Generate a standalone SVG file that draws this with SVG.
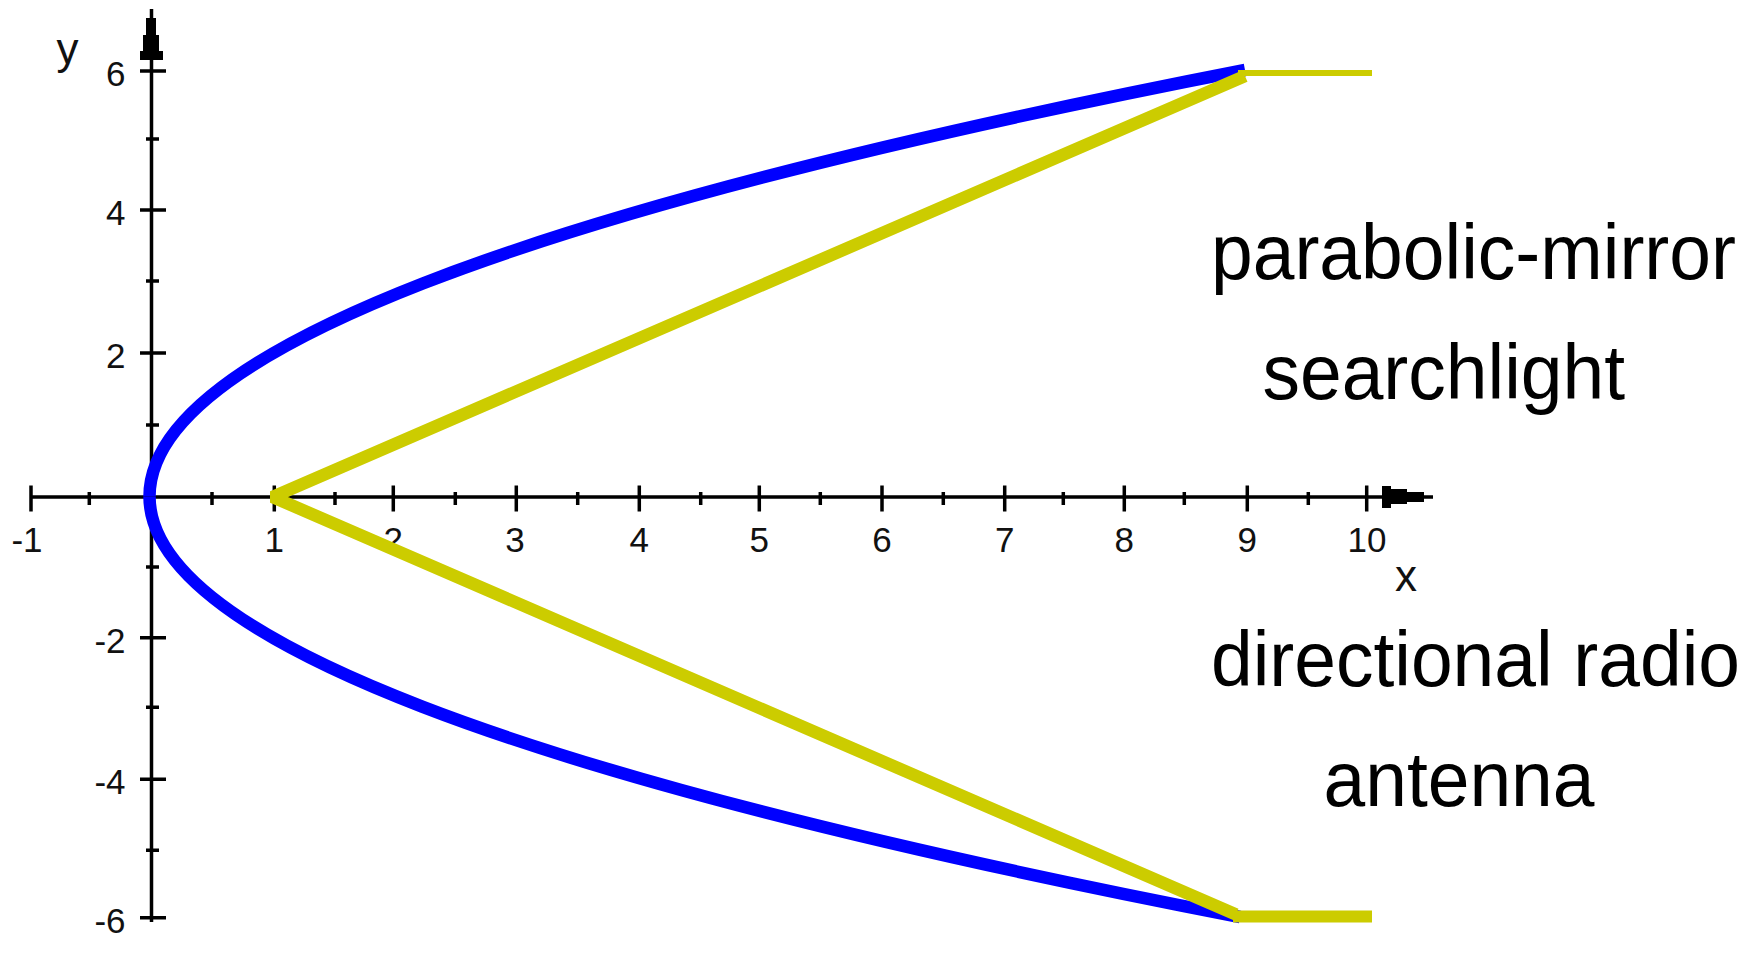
<svg xmlns="http://www.w3.org/2000/svg" width="1760" height="956" viewBox="0 0 1760 956">
<style>
.axis{stroke:#000;stroke-width:3.5;fill:none}
.tick{stroke:#000;stroke-width:3.5;fill:none}
.ah{fill:#000}
.num{font-family:"Liberation Sans",Arial,sans-serif;font-size:35px;fill:#111}
.axl{font-family:"Liberation Sans",Arial,sans-serif;font-size:44px;fill:#111;text-anchor:middle}
.lbl{font-family:"Liberation Sans",Arial,sans-serif;font-size:77px;fill:#000}
.para{stroke:#0000ff;stroke-width:12.5;fill:none}
.ray{stroke:#cccc00;fill:none;stroke-linejoin:bevel}
</style>
<rect width="1760" height="956" fill="#fff"/>
<g id="axes">
<path class="axis" d="M31 497H1433M151.5 9V922"/>
<polygon class="ah" points="1382,486 1391,486 1391,489 1407,489 1407,492 1424,492 1424,502 1407,502 1407,504 1391,504 1391,508 1382,508"/>
<polygon class="ah" points="146,18 156,18 156,35 159,35 159,51 163,51 163,60 140,60 140,51 143,51 143,35 146,35"/>
<path class="tick" d="M31 485.5V511.5M274.3 485.5V511.5M393.3 485.5V511.5M516.3 485.5V511.5M639.3 485.5V511.5M759.3 485.5V511.5M882 485.5V511.5M1004.7 485.5V511.5M1124.3 485.5V511.5M1247.3 485.5V511.5M1366.7 485.5V511.5"/>
<path class="tick" d="M89.3 492V505M212 492V505M335 492V505M455.3 492V505M577.7 492V505M700.7 492V505M820.3 492V505M943.3 492V505M1063.3 492V505M1184.3 492V505M1308.3 492V505"/>
<path class="tick" d="M140 71H166M140 210H166M140 353H166M140 637.7H166M140 779.3H166M140 917.7H166"/>
<path class="tick" d="M146 139H159M146 281H159M146 425H159M146 567H159M146 707.3H159M146 850.3H159"/>
</g>
<g id="x-labels" class="num" text-anchor="middle">
<text x="27" y="551.5">-1</text>
<text x="274.3" y="551.5">1</text>
<text x="393.3" y="551.5">2</text>
<text x="515" y="551.5">3</text>
<text x="639.3" y="551.5">4</text>
<text x="759.3" y="551.5">5</text>
<text x="882" y="551.5">6</text>
<text x="1004.7" y="551.5">7</text>
<text x="1124.3" y="551.5">8</text>
<text x="1247.3" y="551.5">9</text>
<text x="1367" y="551.5">10</text>
</g>
<g id="y-labels" class="num" text-anchor="end">
<text x="125.5" y="86">6</text>
<text x="125.5" y="225">4</text>
<text x="125.5" y="368">2</text>
<text x="125.5" y="652.5">-2</text>
<text x="125.5" y="794">-4</text>
<text x="125.5" y="932.5">-6</text>
</g>
<g id="axis-names" class="axl">
<text x="67.5" y="64">y</text>
<text x="1406" y="591">x</text>
</g>
<g id="parabola">
<path class="para" d="M149.5 496.5Q149.5 283.2 1245 70"/>
<path class="para" d="M149.5 496.5Q149.5 706.5 1240 917"/>
</g>
<g id="rays">
<polyline class="ray" stroke-width="12.5" points="1245,76 272.5,497 1236,914.5"/>
<path class="ray" stroke-width="6" d="M1238 73H1372"/>
<path class="ray" stroke-width="12" d="M1233 916.5H1372"/>
</g>
<g id="label-searchlight">
<text class="lbl" x="1211" y="278.5" textLength="525" lengthAdjust="spacingAndGlyphs">parabolic-mirror</text>
<text class="lbl" x="1262.5" y="398.5" textLength="362.5" lengthAdjust="spacingAndGlyphs">searchlight</text>
</g>
<g id="label-antenna">
<text class="lbl" x="1211" y="686" textLength="529" lengthAdjust="spacingAndGlyphs">directional radio</text>
<text class="lbl" x="1323.5" y="806" textLength="271" lengthAdjust="spacingAndGlyphs">antenna</text>
</g>
</svg>
